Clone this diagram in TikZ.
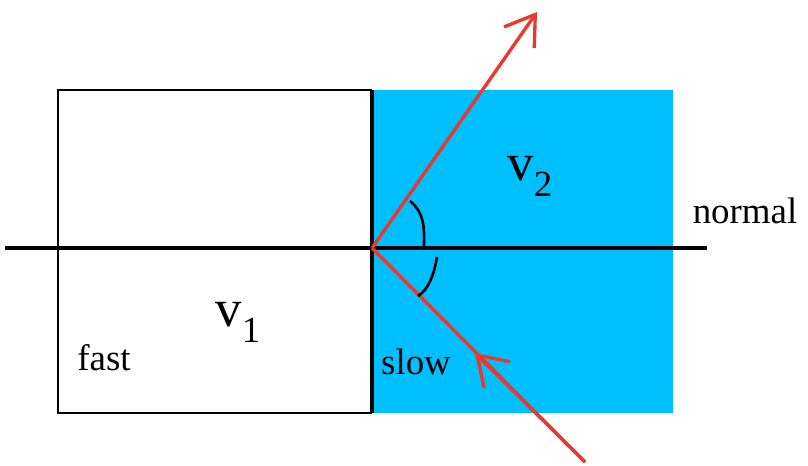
\documentclass[tikz,border=0pt]{standalone}
\usepackage{fontspec}
\setmainfont{Liberation Serif}
\usetikzlibrary{arrows.meta}
\definecolor{slowblue}{HTML}{00BFFF}
\definecolor{rayred}{HTML}{E8392A}
\tikzset{
	medium/.style={
			draw=none,
			inner sep=0pt
		},
	boundary/.style={
			draw=black,
			line width=2.4pt
		},
	normalline/.style={
			draw=black,
			line width=1.9pt
		},
	ray/.style={
			draw=rayred,
			line width=1.9pt
		},
	raytip/.style={
			-{Straight Barb[length=16pt,width=21pt,line width=1.9pt]}
		},
	anglearc/.style={
			draw=black,
			line width=1.5pt
		},
	speedlabel/.style={font=\fontsize{30}{34}\selectfont, inner sep=0pt},
	sidelabel/.style={font=\fontsize{21}{24}\selectfont, inner sep=0pt}
}
\newcommand{\subs}[1]{\raisebox{-9pt}{\fontsize{21}{24}\selectfont #1}}
\begin{document}
\begin{tikzpicture}[x=0.02cm, y=-0.02cm]
				\useasboundingbox (0,0) rectangle (808,466);

				% the two media
				\fill[white] (58,90) rectangle (372,413);
				\draw[black, line width=0.9pt] (372,90) -- (58,90) -- (58,413) -- (372,413);
				\fill[slowblue] (372,90) rectangle (673,413);
				\draw[boundary] (372,90) -- (372,413);

				\coordinate (O) at (372,248);
				\coordinate (nl) at (5,248);
				\coordinate (nr) at (707,248);
				\coordinate (out) at (537,12);
				\coordinate (in) at (585,462);
				\coordinate (mid) at (475,353);

				\draw[normalline] (nl) -- (nr);

				% rays
				\draw[ray, raytip] (O) -- (out);
				\draw[ray] (in) -- (O);
				\draw[ray, raytip] (in) -- (mid);

				% angles
				\draw[anglearc] (410,201) .. controls (426,214) and (424,232) .. (424,248);
				\draw[anglearc] (437,257) .. controls (434,275) and (428,290) .. (418,296);

				\node[speedlabel] (v1) at (238,322) {v\subs{1}};
				\node[speedlabel] (v2) at (530,176) {v\subs{2}};
				\node[sidelabel] (fast) at (104,358) {fast};
				\node[sidelabel] (slow) at (416,362) {slow};
				\node[sidelabel] (norm) at (745,211) {normal};

			\end{tikzpicture}
\end{document}
